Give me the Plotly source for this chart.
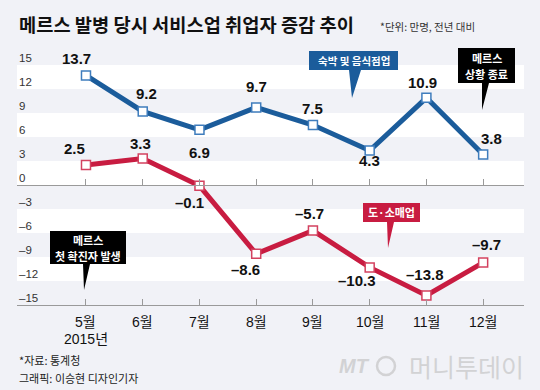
import plotly.graph_objects as go

# ---------------- data ----------------
months = ["5월", "6월", "7월", "8월", "9월", "10월", "11월", "12월"]
year_label = "2015년"
lodging = [13.7, 9.2, 6.9, 9.7, 7.5, 4.3, 10.9, 3.8]      # 숙박 및 음식점업
retail = [2.5, 3.3, -0.1, -8.6, -5.7, -10.3, -13.8, -9.7]  # 도·소매업
y_ticks = [15, 12, 9, 6, 3, 0, -3, -6, -9, -12, -15]
bands = [(0, 3), (6, 9), (12, 15), (-3, -6), (-9, -12)]

# label offsets (px) - styling only
lodging_off = [(-9, 17), (4, 18), (0, -23), (0, 21), (0, 17), (0, -9.5), (-4, 15), (8, 16)]
retail_off = [(-11, 17), (-2, 15), (-10, -17), (-11, -16), (-3, 17), (-13, -13), (-1, 21), (3, 18)]

BLUE = "#1b5c9b"
RED = "#c81c41"
BG = "#f1f2f7"
NUM_FONT = "Liberation Sans, Arial, sans-serif"
KR_FONT = "Noto Sans CJK KR, sans-serif"

W, H = 540, 390
L, R, T, B = 17, 16, 65, 85
PW, PH = W - L - R, H - T - B


def px(xp):
    return (xp - L) / PW


def py(yp):
    return (H - B - yp) / PH


def fmt(v):
    s = f"{abs(v):.1f}"
    return ("–" + s) if v < 0 else s


def fmt_tick(v):
    return ("–" + str(abs(v))) if v < 0 else str(v)


xs = list(range(len(months)))

fig = go.Figure()

fig.add_trace(go.Scatter(
    x=xs, y=lodging, mode="lines+markers",
    line=dict(color=BLUE, width=5),
    marker=dict(symbol="square", size=9, color="white", line=dict(color="#3f7dbd", width=1.5)),
    hoverinfo="skip", showlegend=False, cliponaxis=False))
fig.add_trace(go.Scatter(
    x=xs, y=retail, mode="lines+markers",
    line=dict(color=RED, width=5),
    marker=dict(symbol="square", size=9, color="white", line=dict(color="#d3415f", width=1.5)),
    hoverinfo="skip", showlegend=False, cliponaxis=False))
# dummy trace for the zero-line axis
fig.add_trace(go.Scatter(x=[0], y=[0], xaxis="x2", mode="markers",
                         marker=dict(opacity=0), hoverinfo="skip", showlegend=False))

shapes = []
for y0, y1 in bands:
    shapes.append(dict(type="rect", xref="paper", yref="y", x0=0, x1=1, y0=y0, y1=y1,
                       fillcolor="white", line=dict(width=0), layer="below"))

annotations = []
for i, v in enumerate(lodging):
    dx, dy = lodging_off[i]
    annotations.append(dict(x=xs[i], y=v, xref="x", yref="y", text=f"<b>{fmt(v)}</b>",
                            showarrow=False, xshift=dx, yshift=dy,
                            font=dict(family=NUM_FONT, size=15, color="#111")))
for i, v in enumerate(retail):
    dx, dy = retail_off[i]
    annotations.append(dict(x=xs[i], y=v, xref="x", yref="y", text=f"<b>{fmt(v)}</b>",
                            showarrow=False, xshift=dx, yshift=dy,
                            font=dict(family=NUM_FONT, size=15, color="#111")))
for t in y_ticks:
    annotations.append(dict(x=0, y=t, xref="paper", yref="y", text=fmt_tick(t),
                            showarrow=False, xanchor="left", yanchor="bottom", yshift=-1,
                            font=dict(family=NUM_FONT, size=11.5, color="#333")))


def callout(box, tail, color, lines, fsize=11, line_gap=16):
    x0, y0, x1, y1 = box
    bl, br, tx, ty = tail
    path = (f"M {px(x0)},{py(y0)} L {px(x1)},{py(y0)} L {px(x1)},{py(y1)} "
            f"L {px(br)},{py(y1)} L {px(tx)},{py(ty)} L {px(bl)},{py(y1)} "
            f"L {px(x0)},{py(y1)} Z")
    shapes.append(dict(type="path", xref="paper", yref="paper", path=path,
                       fillcolor=color, line=dict(width=0), layer="above"))
    n = len(lines)
    cy = (y0 + y1) / 2
    for k, l in enumerate(lines):
        ly = cy + (k - (n - 1) / 2) * line_gap
        annotations.append(dict(x=px((x0 + x1) / 2), y=py(ly), xref="paper", yref="paper",
                                text=f"<b>{l}</b>", showarrow=False,
                                xanchor="center", yanchor="middle",
                                font=dict(family=KR_FONT, size=fsize, color="white")))


callout((309, 51, 398, 70), (349, 361, 352, 98), BLUE, ["숙박 및 음식점업"], 10.5)
callout((458, 48, 515, 83), (482, 489, 482, 110), "#000", ["메르스", "상황 종료"])
callout((363, 203, 420, 222), (387, 394, 388, 248), RED, ["도·소매업"])
callout((50, 231, 126, 264), (83, 90, 84, 290), "#000", ["메르스", "첫 확진자 발생"])

# month labels
for i, m in enumerate(months):
    annotations.append(dict(x=xs[i], y=py(322), xref="x", yref="paper", text=m, showarrow=False,
                            xanchor="center", yanchor="middle",
                            font=dict(family=NUM_FONT + ", " + KR_FONT, size=14, color="#111")))
annotations.append(dict(x=xs[0], y=py(339), xref="x", yref="paper", text=year_label,
                        showarrow=False, xanchor="center", yanchor="middle",
                        font=dict(family=NUM_FONT + ", " + KR_FONT, size=14, color="#111")))

# title & notes
annotations += [
    dict(x=px(17), y=py(24), xref="paper", yref="paper", xanchor="left", yanchor="middle",
         text="<b>메르스 발병 당시 서비스업 취업자 증감 추이</b>", showarrow=False,
         font=dict(family=KR_FONT, size=18.7, color="#111")),
    dict(x=px(378), y=py(27), xref="paper", yref="paper", xanchor="left", yanchor="middle",
         text="*단위: 만명, 전년 대비", showarrow=False,
         font=dict(family=KR_FONT, size=10.5, color="#333")),
    dict(x=px(17), y=py(360), xref="paper", yref="paper", xanchor="left", yanchor="middle",
         text="*자료: 통계청", showarrow=False,
         font=dict(family=KR_FONT, size=11, color="#222")),
    dict(x=px(17), y=py(378), xref="paper", yref="paper", xanchor="left", yanchor="middle",
         text="그래픽: 이승현 디자인기자", showarrow=False,
         font=dict(family=KR_FONT, size=11, color="#222")),
    dict(x=px(372), y=py(366), xref="paper", yref="paper", xanchor="right", yanchor="middle",
         text="<i><b>MT</b></i>", showarrow=False,
         font=dict(family=NUM_FONT, size=20, color="#d2d2d4")),
    dict(x=px(526), y=py(366), xref="paper", yref="paper", xanchor="right", yanchor="middle",
         text="머니투데이", showarrow=False,
         font=dict(family=KR_FONT, size=25, color="#d2d2d4")),
]
shapes.append(dict(type="circle", xref="paper", yref="paper",
                   x0=px(377), x1=px(395), y0=py(357), y1=py(375),
                   line=dict(color="#d2d2d4", width=2.5)))

fig.update_layout(
    width=W, height=H,
    margin=dict(l=L, r=R, t=T, b=B),
    paper_bgcolor=BG, plot_bgcolor=BG,
    shapes=shapes, annotations=annotations,
    xaxis=dict(range=[-1.216, 7.72], tickmode="array", tickvals=xs, showticklabels=False,
               showgrid=False, zeroline=False, showline=True, linecolor="#9a9a9a", linewidth=1,
               ticks="inside", ticklen=6, tickcolor="#9a9a9a"),
    xaxis2=dict(overlaying="x", matches="x", anchor="free", position=0.5, side="bottom",
                tickmode="array", tickvals=xs, showticklabels=False,
                showgrid=False, zeroline=False, showline=True, linecolor="#9a9a9a", linewidth=1,
                ticks="inside", ticklen=6, tickcolor="#9a9a9a"),
    yaxis=dict(range=[-15, 15], showgrid=False, zeroline=False, showticklabels=False,
               showline=False, ticks=""),
)

fig.write_html("out.html", config={"displayModeBar": False},
               post_script="document.body.style.margin='0';document.body.style.overflow='hidden';")
